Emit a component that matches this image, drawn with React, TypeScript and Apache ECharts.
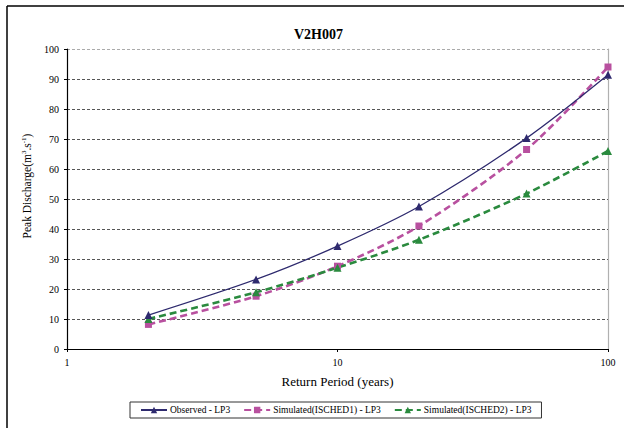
import React, { useEffect, useRef } from "react";
import * as echarts from "echarts";

const returnPeriods = [2, 5, 10, 20, 50, 100];
const observedLP3 = [11.3, 23.2, 34.3, 47.5, 70.3, 91.4];
const isched1LP3 = [8.2, 17.6, 27.6, 41.0, 66.5, 94.0];
const isched2LP3 = [10.0, 18.9, 27.1, 36.4, 51.8, 66.0];
const seriesNames = [
  "Observed - LP3",
  "Simulated(ISCHED1) - LP3",
  "Simulated(ISCHED2) - LP3",
];
const titleText = "V2H007";

const FONT = "Liberation Serif, serif";

export default function App() {
  const ref = useRef<HTMLDivElement>(null);
  useEffect(() => {
    if (!ref.current) return;
    const chart = echarts.init(ref.current, null, { renderer: "svg" });
    const pair = (vals: number[]) => returnPeriods.map((x, i) => [x, vals[i]]);
    const gridColors = ["#000", "#555", "#555", "#555", "#555", "#555", "#555", "#555", "#555", "#555", "#aaa"];
    chart.setOption({
      animation: false,
      backgroundColor: "#fff",
      textStyle: { fontFamily: FONT },
      title: {
        text: titleText,
        left: 289,
        top: 22,
        textStyle: { fontFamily: FONT, fontSize: 14, fontWeight: "bold", color: "#000" },
      },
      grid: { left: 67, right: 16, top: 49, bottom: 79 },
      legend: {
        left: 130,
        top: 402,
        padding: [3, 10, 3, 10],
        borderColor: "#333",
        borderWidth: 1,
        borderRadius: 0,
        itemWidth: 26,
        itemHeight: 8,
        itemGap: 13,
        textStyle: { fontFamily: FONT, fontSize: 9.5, color: "#000", padding: [0, 0, 0, -2] },
        data: seriesNames,
      },
      xAxis: {
        type: "log",
        logBase: 10,
        min: 1,
        max: 100,
        name: "Return Period (years)",
        nameLocation: "middle",
        nameGap: 26,
        nameTextStyle: { fontFamily: FONT, fontSize: 13, color: "#000" },
        axisLine: { show: true, lineStyle: { color: "#000", width: 1.2 } },
        axisTick: { show: true, length: 3, lineStyle: { color: "#000" } },
        axisLabel: { fontFamily: FONT, fontSize: 10, color: "#000", margin: 8 },
        splitLine: { show: false },
        minorTick: { show: false },
      },
      yAxis: [
        {
          type: "value",
          min: 0,
          max: 100,
          interval: 10,
          name: "{a|Peak Discharge(m}{s|3}{a|.s}{s|-1}{a|)}",
          nameLocation: "middle",
          nameGap: 31,
          nameTextStyle: {
            fontFamily: FONT,
            fontSize: 11.5,
            color: "#000",
            padding: [0, 0, 0, 26],
            rich: {
              a: { fontFamily: FONT, fontSize: 11.5, lineHeight: 13, color: "#000" },
              s: { fontFamily: FONT, fontSize: 7, lineHeight: 7, verticalAlign: "top", color: "#000" },
            },
          },
          axisLine: { show: true, lineStyle: { color: "#000", width: 1.2 } },
          axisTick: { show: true, length: 3, lineStyle: { color: "#000" } },
          axisLabel: { fontFamily: FONT, fontSize: 10, color: "#000", margin: 8 },
          splitLine: {
            show: true,
            lineStyle: { color: gridColors, type: [3, 2], width: 1 },
          },
        },
        {
          type: "value",
          position: "right",
          min: 0,
          max: 100,
          interval: 10,
          axisLine: { show: true, lineStyle: { color: "#b0b0b0", width: 1.2 } },
          axisTick: { show: false },
          axisLabel: { show: false },
          splitLine: { show: false },
        },
      ],
      series: [
        {
          name: seriesNames[0],
          type: "line",
          smooth: 0.3,
          data: pair(observedLP3),
          symbol: "triangle",
          symbolSize: 8,
          itemStyle: { color: "#2E2A6E" },
          lineStyle: { color: "#2E2A6E", width: 1.3 },
          z: 4,
        },
        {
          name: seriesNames[1],
          type: "line",
          smooth: 0.3,
          data: pair(isched1LP3),
          symbol: "rect",
          symbolSize: 7,
          itemStyle: { color: "#B8509F" },
          lineStyle: { color: "#B8509F", width: 2.6, type: [7, 4] },
          z: 3,
        },
        {
          name: seriesNames[2],
          type: "line",
          smooth: 0.3,
          data: pair(isched2LP3),
          symbol: "triangle",
          symbolSize: 8,
          itemStyle: { color: "#2A8A3E" },
          lineStyle: { color: "#2A8A3E", width: 2.6, type: [7, 4] },
          z: 3,
        },
      ],
      graphic: [
        { type: "line", shape: { x1: 7, y1: 6, x2: 624, y2: 6 }, style: { stroke: "#000", lineWidth: 1.5 } },
        { type: "line", shape: { x1: 7, y1: 6, x2: 7, y2: 428 }, style: { stroke: "#000", lineWidth: 1.5 } },
      ],
    });
    return () => chart.dispose();
  }, []);
  return (
    <div
      ref={ref}
      style={{ position: "fixed", left: 0, top: 0, width: 624, height: 428 }}
    />
  );
}
